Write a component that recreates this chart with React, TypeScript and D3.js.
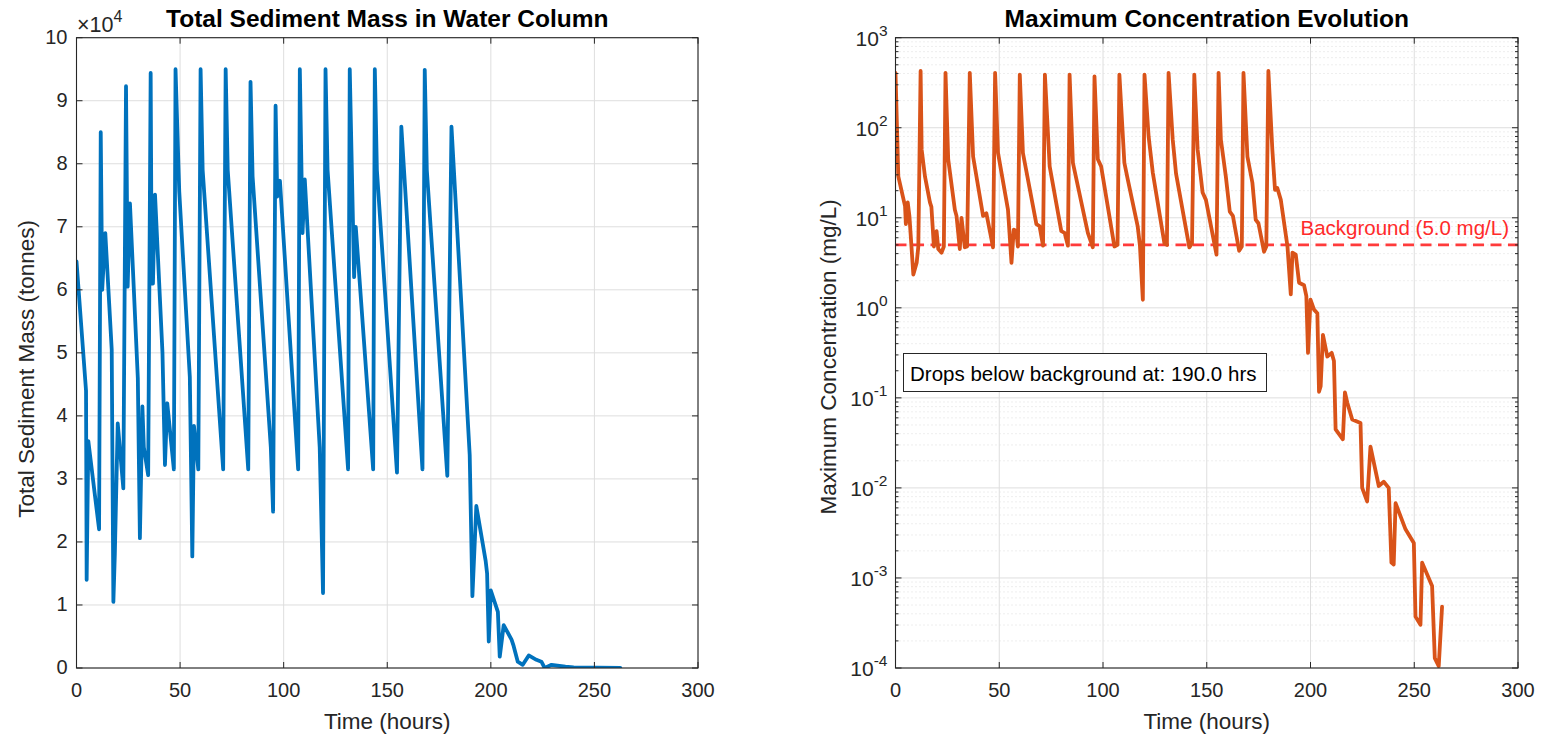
import React from "react";
import * as d3 from "d3";

const massTime = [0, 4.6, 4.9, 5.7, 10.9, 11.7, 12.4, 13.9, 17.0, 17.8, 18.5, 19.9, 22.6, 23.9, 24.7, 25.8, 29.6, 30.6, 31.8, 32.5, 34.6, 35.8, 36.3, 36.9, 37.9, 41.5, 42.7, 43.8, 47.0, 47.8, 49.6, 54.7, 55.9, 56.7, 58.8, 59.9, 60.9, 70.8, 72.0, 73.0, 82.9, 84.0, 85.0, 93.8, 94.9, 96.1, 96.9, 98.2, 107.0, 107.8, 109.1, 110.2, 117.4, 119.0, 120.2, 121.2, 131.1, 131.9, 134.0, 134.8, 143.2, 144.0, 145.0, 154.7, 156.8, 167.0, 168.1, 169.1, 179.0, 181.0, 189.8, 191.1, 193.0, 197.5, 198.2, 199.0, 200.0, 203.4, 204.3, 206.2, 210.0, 211.0, 213.0, 215.4, 218.3, 222.0, 224.4, 226.0, 229.3, 236.0, 240.0, 262.5];
const massValue = [64500, 44000, 14000, 36000, 22000, 85000, 60000, 69000, 50500, 10500, 18000, 38800, 28500, 92300, 60500, 73700, 46000, 20600, 41500, 35000, 30600, 94400, 61000, 61000, 75100, 50000, 32200, 42000, 31500, 95000, 75600, 46200, 17700, 38400, 31500, 95000, 79000, 31500, 95000, 79000, 31500, 93000, 78000, 35000, 24800, 89200, 74800, 77300, 31500, 95000, 69000, 77500, 35000, 11900, 95000, 79000, 31500, 95000, 62000, 70000, 31500, 95000, 79000, 31000, 85900, 31500, 94900, 79000, 30500, 85900, 33800, 11400, 25700, 17000, 15000, 4200, 12300, 8900, 1800, 6800, 4500, 3500, 1000, 500, 2000, 1300, 1000, 0, 500, 200, 100, 0];

const concTime = [0, 1.35, 4.6, 5.0, 5.9, 6.7, 8.6, 10.2, 11.0, 12.1, 12.6, 14.2, 16.6, 17.3, 18.5, 19.8, 20.6, 22.2, 23.3, 24.1, 25.4, 28.6, 29.4, 31.0, 31.8, 33.4, 34.5, 35.8, 37.4, 42.2, 43.8, 47.0, 48.0, 49.4, 54.2, 55.9, 57.0, 58.2, 59.0, 59.9, 61.4, 67.9, 69.4, 71.1, 72.0, 74.3, 79.9, 81.5, 83.1, 83.9, 85.5, 92.7, 95.1, 95.9, 97.5, 99.1, 105.5, 107.0, 107.9, 110.3, 111.9, 116.7, 117.8, 119.2, 120.0, 122.0, 124.0, 129.6, 130.8, 131.6, 133.6, 135.2, 141.6, 142.9, 144.0, 145.6, 148.0, 149.6, 154.7, 155.7, 156.8, 159.2, 161.1, 162.6, 165.6, 166.9, 167.7, 169.6, 172.0, 173.6, 174.9, 177.6, 178.7, 179.7, 181.6, 182.9, 184.0, 185.7, 188.9, 190.5, 191.3, 192.9, 194.5, 196.9, 198.0, 198.8, 200.0, 201.7, 203.3, 204.1, 204.9, 206.0, 208.1, 210.2, 211.3, 212.1, 215.6, 216.6, 217.7, 220.1, 224.1, 224.9, 227.3, 228.9, 232.9, 235.3, 237.7, 239.0, 240.1, 241.0, 245.8, 249.8, 250.6, 253.0, 253.8, 258.6, 259.9, 261.8, 263.4];
const concValue = [407, 28.8, 13.5, 8.5, 14.8, 10.5, 2.34, 3.16, 4.8, 427, 57.5, 28.8, 14.8, 13.2, 4.8, 7.1, 4.5, 4.1, 4.8, 407, 44.7, 12.3, 10.5, 4.5, 10, 4.7, 4.8, 407, 47.9, 10.5, 11.2, 4.7, 407, 52.5, 12.3, 3.16, 7.4, 7.1, 4.8, 389, 52.5, 8.5, 8.1, 4.9, 389, 37.2, 7.1, 6.8, 4.9, 389, 40.7, 6.8, 4.7, 372, 44.7, 37.2, 4.8, 5.0, 389, 40.7, 26.9, 8.1, 4.9, 1.23, 389, 79.4, 31.6, 5.2, 5.0, 407, 74.1, 30.9, 4.7, 5.2, 389, 57.5, 19.1, 15.8, 3.9, 407, 74.1, 28.8, 11.7, 10.5, 4.3, 4.8, 407, 47.9, 24.5, 9.5, 8.7, 4.2, 4.8, 427, 57.5, 20.4, 21.4, 15.8, 4.8, 1.41, 4.1, 3.9, 1.9, 1.78, 1.35, 0.316, 1.23, 0.955, 0.87, 0.117, 0.135, 0.5, 0.288, 0.316, 0.257, 0.0447, 0.0347, 0.115, 0.089, 0.0575, 0.0525, 0.01, 0.00708, 0.0288, 0.0105, 0.0117, 0.01, 0.00148, 0.00141, 0.00676, 0.00347, 0.00245, 0.000372, 0.000302, 0.00148, 0.000813, 0.000129, 0.000105, 0.000479];

const xTicks = [0, 50, 100, 150, 200, 250, 300];
const massTicks = [0, 1, 2, 3, 4, 5, 6, 7, 8, 9, 10];
const logExponents = [-4, -3, -2, -1, 0, 1, 2, 3];
const backgroundLevel = 5.0;
const dropTime = 190.0;

const FONT = "'Liberation Sans', Arial, Helvetica, sans-serif";
const AX = "#262626";
const GRID = "#dedede";
const TICK_FS = 20;
const LABEL_FS = 22.5;
const TITLE_FS = 24.5;
const TEXT_FS = 20.5;

export default function App() {
  const top = 37.7;
  const bottom = 668;
  const L = { x0: 76.5, x1: 698 };
  const R = { x0: 895.5, x1: 1518 };

  const xL = d3.scaleLinear().domain([0, 300]).range([L.x0, L.x1]);
  const yL = d3.scaleLinear().domain([0, 100000]).range([bottom, top]);
  const xR = d3.scaleLinear().domain([0, 300]).range([R.x0, R.x1]);
  const yR = d3.scaleLog().domain([1e-4, 1e3]).range([bottom, top]);

  const massLine = d3
    .line<number>()
    .x((_, i) => xL(massTime[i]))
    .y((d) => yL(d))(massValue) as string;
  const concLine = d3
    .line<number>()
    .x((_, i) => xR(concTime[i]))
    .y((d) => yR(d))(concValue) as string;

  const minorVals: number[] = [];
  logExponents.slice(0, -1).forEach((e) => {
    for (let k = 2; k <= 9; k++) minorVals.push(k * Math.pow(10, e));
  });

  const tickLen = 6;

  return (
    <svg
      width={1545}
      height={737}
      style={{ position: "absolute", left: 0, top: 0, background: "#fff" }}
      fontFamily={FONT}
    >
      <rect x={0} y={0} width={1545} height={737} fill="#fff" />
      <defs>
        <clipPath id="clipL">
          <rect x={L.x0} y={top} width={L.x1 - L.x0} height={bottom - top} />
        </clipPath>
        <clipPath id="clipR">
          <rect x={R.x0} y={top} width={R.x1 - R.x0} height={bottom - top} />
        </clipPath>
      </defs>

      {/* ---------- LEFT PANEL ---------- */}
      <g>
        {xTicks.map((t) => (
          <line key={"lgx" + t} x1={xL(t)} x2={xL(t)} y1={top} y2={bottom} stroke={GRID} strokeWidth={1} />
        ))}
        {massTicks.map((t) => (
          <line key={"lgy" + t} x1={L.x0} x2={L.x1} y1={yL(t * 1e4)} y2={yL(t * 1e4)} stroke={GRID} strokeWidth={1} />
        ))}
        <path d={massLine} fill="none" stroke="#0072BD" strokeWidth={3.8} strokeLinejoin="round" strokeLinecap="round" clipPath="url(#clipL)" />
        <rect x={L.x0} y={top} width={L.x1 - L.x0} height={bottom - top} fill="none" stroke={AX} strokeWidth={1.1} />
        {xTicks.map((t) => (
          <g key={"ltx" + t}>
            <line x1={xL(t)} x2={xL(t)} y1={bottom} y2={bottom - tickLen} stroke={AX} />
            <line x1={xL(t)} x2={xL(t)} y1={top} y2={top + tickLen} stroke={AX} />
            <text x={xL(t)} y={692} textAnchor="middle" dominantBaseline="middle" fontSize={TICK_FS} fill={AX}>
              {t}
            </text>
          </g>
        ))}
        {massTicks.map((t) => (
          <g key={"lty" + t}>
            <line x1={L.x0} x2={L.x0 + tickLen} y1={yL(t * 1e4)} y2={yL(t * 1e4)} stroke={AX} />
            <line x1={L.x1} x2={L.x1 - tickLen} y1={yL(t * 1e4)} y2={yL(t * 1e4)} stroke={AX} />
            <text x={L.x0 - 9} y={yL(t * 1e4) + 1} textAnchor="end" dominantBaseline="middle" fontSize={TICK_FS} fill={AX}>
              {t}
            </text>
          </g>
        ))}
        <text x={77} y={32} fontSize={21.5} fill={AX}>
          ×10<tspan dy={-10} fontSize={16}>4</tspan>
        </text>
        <text x={(L.x0 + L.x1) / 2} y={27} textAnchor="middle" fontSize={TITLE_FS} fontWeight="bold" fill="#000">
          Total Sediment Mass in Water Column
        </text>
        <text x={(L.x0 + L.x1) / 2} y={729} textAnchor="middle" fontSize={LABEL_FS} fill={AX}>
          Time (hours)
        </text>
        <text
          transform={`translate(28,${(top + bottom) / 2 + 16}) rotate(-90)`}
          textAnchor="middle"
          dominantBaseline="middle"
          fontSize={LABEL_FS}
          fill={AX}
        >
          Total Sediment Mass (tonnes)
        </text>
      </g>

      {/* ---------- RIGHT PANEL ---------- */}
      <g>
        {minorVals.map((v, i) => (
          <line key={"rmg" + i} x1={R.x0} x2={R.x1} y1={yR(v)} y2={yR(v)} stroke="#d4d4d4" strokeWidth={0.8} strokeDasharray="1,3" />
        ))}
        {xTicks.map((t) => (
          <line key={"rgx" + t} x1={xR(t)} x2={xR(t)} y1={top} y2={bottom} stroke={GRID} strokeWidth={1} />
        ))}
        {logExponents.map((e) => (
          <line key={"rgy" + e} x1={R.x0} x2={R.x1} y1={yR(Math.pow(10, e))} y2={yR(Math.pow(10, e))} stroke={GRID} strokeWidth={1} />
        ))}
        <line
          x1={R.x0}
          x2={R.x1}
          y1={yR(backgroundLevel)}
          y2={yR(backgroundLevel)}
          stroke="#ff3b3b"
          strokeWidth={2.6}
          strokeDasharray="11,6.5"
        />
        <path d={concLine} fill="none" stroke="#D95319" strokeWidth={3.8} strokeLinejoin="round" strokeLinecap="round" clipPath="url(#clipR)" />
        <rect x={R.x0} y={top} width={R.x1 - R.x0} height={bottom - top} fill="none" stroke={AX} strokeWidth={1.1} />
        {xTicks.map((t) => (
          <g key={"rtx" + t}>
            <line x1={xR(t)} x2={xR(t)} y1={bottom} y2={bottom - tickLen} stroke={AX} />
            <line x1={xR(t)} x2={xR(t)} y1={top} y2={top + tickLen} stroke={AX} />
            <text x={xR(t)} y={692} textAnchor="middle" dominantBaseline="middle" fontSize={TICK_FS} fill={AX}>
              {t}
            </text>
          </g>
        ))}
        {minorVals.map((v, i) => (
          <g key={"rmt" + i}>
            <line x1={R.x0} x2={R.x0 + 3} y1={yR(v)} y2={yR(v)} stroke={AX} />
            <line x1={R.x1} x2={R.x1 - 3} y1={yR(v)} y2={yR(v)} stroke={AX} />
          </g>
        ))}
        {logExponents.map((e) => (
          <g key={"rty" + e}>
            <line x1={R.x0} x2={R.x0 + tickLen} y1={yR(Math.pow(10, e))} y2={yR(Math.pow(10, e))} stroke={AX} />
            <line x1={R.x1} x2={R.x1 - tickLen} y1={yR(Math.pow(10, e))} y2={yR(Math.pow(10, e))} stroke={AX} />
            <text x={R.x0 - 8} y={yR(Math.pow(10, e)) + 8} textAnchor="end" fontSize={21} fill={AX}>
              10<tspan dy={-10} fontSize={15.5}>{e < 0 ? "-" + Math.abs(e) : String(e)}</tspan>
            </text>
          </g>
        ))}
        <text x={1509} y={yR(backgroundLevel) - 10} textAnchor="end" fontSize={TEXT_FS} fill="#ff2a2a">
          Background ({backgroundLevel.toFixed(1)} mg/L)
        </text>
        <rect x={903.5} y={353.5} width={363} height={38} fill="#fff" stroke={AX} strokeWidth={1} />
        <text x={910} y={380.5} fontSize={TEXT_FS} fill="#000">
          Drops below background at: {dropTime.toFixed(1)} hrs
        </text>
        <text x={(R.x0 + R.x1) / 2} y={27} textAnchor="middle" fontSize={TITLE_FS} fontWeight="bold" fill="#000">
          Maximum Concentration Evolution
        </text>
        <text x={(R.x0 + R.x1) / 2} y={729} textAnchor="middle" fontSize={LABEL_FS} fill={AX}>
          Time (hours)
        </text>
        <text
          transform={`translate(830,${(top + bottom) / 2 + 4}) rotate(-90)`}
          textAnchor="middle"
          dominantBaseline="middle"
          fontSize={LABEL_FS}
          fill={AX}
        >
          Maximum Concentration (mg/L)
        </text>
      </g>
    </svg>
  );
}
